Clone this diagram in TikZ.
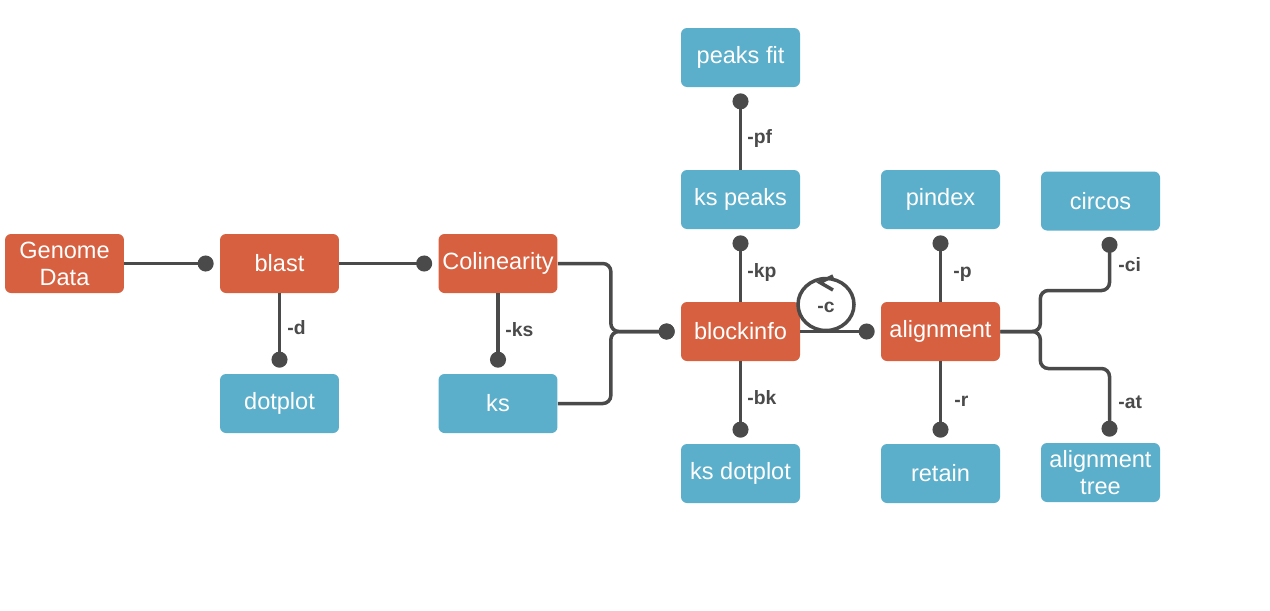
\documentclass[tikz,border=0pt]{standalone}
\usepackage{fontspec}
\setmainfont{Liberation Sans}
\usetikzlibrary{arrows.meta,positioning}
\definecolor{blockred}{HTML}{D6603F}
\definecolor{toolblue}{HTML}{5BAFCB}
\definecolor{wire}{HTML}{4A4A4A}

\begin{document}
\begin{tikzpicture}[x=0.02cm,y=-0.02cm,font=\fontsize{13.4}{15.3}\selectfont,
 main/.style={fill=blockred,text=white,rounded corners=0.12cm,minimum width=2.38cm,minimum height=1.18cm,align=center,inner sep=2pt},
 tool/.style={main,fill=toolblue},
 link/.style={draw=wire,line width=2pt,-{Circle[length=0.32cm]},shorten >=0.12cm,rounded corners=0.16cm},
 opt/.style={font=\bfseries\fontsize{11}{13}\selectfont,text=wire,anchor=west,inner sep=0pt}]
\useasboundingbox (0,0) rectangle (1270,610);
\node[main] (genome) at (64.5,263.5) {Genome\\Data};
\node[main] (blast) at (279.5,263.5) {blast};
\node[main] (colin) at (498,263.5) {Colinearity};
\node[tool] (dotplot) at (279.5,403.5) {dotplot};
\node[tool] (ks) at (498,403.5) {ks};
\node[main] (blockinfo) at (740.5,331.5) {blockinfo};
\node[tool] (kspeaks) at (740.5,199.5) {ks peaks};
\node[tool] (peaksfit) at (740.5,57.5) {peaks fit};
\node[tool] (ksdotplot) at (740.5,473.5) {ks dotplot};
\node[main] (alignment) at (940.5,331.5) {alignment};
\node[tool] (pindex) at (940.5,199.5) {pindex};
\node[tool] (retain) at (940.5,473.5) {retain};
\node[tool] (circos) at (1100.5,201) {circos};
\node[tool] (aligntree) at (1100.5,472.5) {alignment\\tree};
% connectors
\draw[link] (genome.east) -- (blast.west);
\draw[link] (blast.east) -- (colin.west);
\draw[link] (blast.south) -- (dotplot.north);
\draw[link] (colin.south) -- (ks.north);
\draw[link] (colin.east) -- ++(53,0) |- (blockinfo.west);
\draw[link] (ks.east) -- ++(53,0) |- (blockinfo.west);
\draw[link] (blockinfo.north) -- (kspeaks.south);
\draw[link] (kspeaks.north) -- (peaksfit.south);
\draw[link] (blockinfo.south) -- (ksdotplot.north);
\draw[link] (blockinfo.east) -- (alignment.west);
\draw[link] (alignment.north) -- (pindex.south);
\draw[link] (alignment.south) -- (retain.north);
\draw[link] (alignment.east) -| ++(40,-41) -| ([xshift=0.18cm]circos.south);
\draw[link] (alignment.east) -| ++(40,37) -| ([xshift=0.18cm]aligntree.north);
% self loop on blockinfo
\draw[draw=wire,line width=2pt] (826,304.5) ellipse [x radius=0.56cm,y radius=0.52cm];
\draw[draw=wire,line width=2pt] (833,276) -- (820,282.5) -- (833,290);
% option labels
\node[opt,anchor=center] (optc) at (826,307) {-c};
\node[opt] (optd) at (287,328) {-d};
\node[opt] (optks) at (505,330) {-ks};
\node[opt] (optkp) at (747,272) {-kp};
\node[opt] (optpf) at (747,138) {-pf};
\node[opt] (optbk) at (747,398) {-bk};
\node[opt] (optp) at (953,274) {-p};
\node[opt] (optr) at (954,401) {-r};
\node[opt] (optci) at (1118,265) {-ci};
\node[opt] (optat) at (1118,402) {-at};
\end{tikzpicture}
\end{document}
